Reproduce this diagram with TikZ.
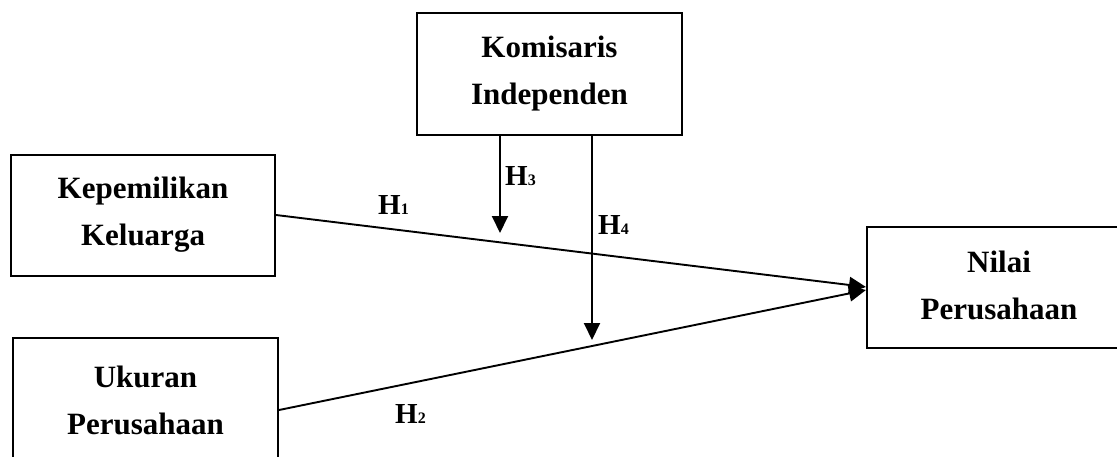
\documentclass[tikz,border=0pt]{standalone}
\usepackage{fontspec}
\setmainfont{Liberation Serif}
\usetikzlibrary{arrows.meta}
\newcommand{\hsub}[1]{{\fontsize{16}{16}\selectfont #1}}
\begin{document}
\begin{tikzpicture}[x=1pt,y=-1pt,
  box/.style={draw, line width=2pt, inner sep=0pt, align=center,
    minimum width=264pt, minimum height=121pt,
    font=\fontsize{31}{47}\selectfont\bfseries},
  arr/.style={line width=1.9pt, -{Triangle[length=17pt,width=16pt]}},
  hlab/.style={anchor=base west, inner sep=0pt, font=\fontsize{29}{29}\selectfont\bfseries}]
\useasboundingbox (0,0) rectangle (1117,456);
\clip (0,0) rectangle (1117,456);
\node[box] (kep) at (143,215) {Kepemilikan\\Keluarga};
\node[box, minimum width=265pt, minimum height=122pt] (kom) at (549.5,74) {Komisaris\\Independen};
\node[box, minimum width=265pt, minimum height=124pt] (uku) at (145.5,400) {Ukuran\\Perusahaan};
\node[box, anchor=west, minimum width=292pt] (nil) at (866,287)
  {\begin{tabular}{@{}c@{}}Nilai\\Perusahaan\end{tabular}\hspace*{28pt}};
\coordinate (h3end) at (500,233);
\coordinate (h4end) at (592,340);
\draw[arr] (kep.east) -- (nil.west);
\draw[arr] ([yshift=-10pt]uku.east) -- ([yshift=-3pt]nil.west);
\draw[arr] (kom.south -| h3end) -- (h3end);
\draw[arr] (kom.south -| h4end) -- (h4end);
\node[hlab] (l1) at (378,214) {H\hsub{1}};
\node[hlab] (l3) at (505,185) {H\hsub{3}};
\node[hlab] (l4) at (598,234) {H\hsub{4}};
\node[hlab] (l2) at (395,423) {H\hsub{2}};
\end{tikzpicture}
\end{document}
